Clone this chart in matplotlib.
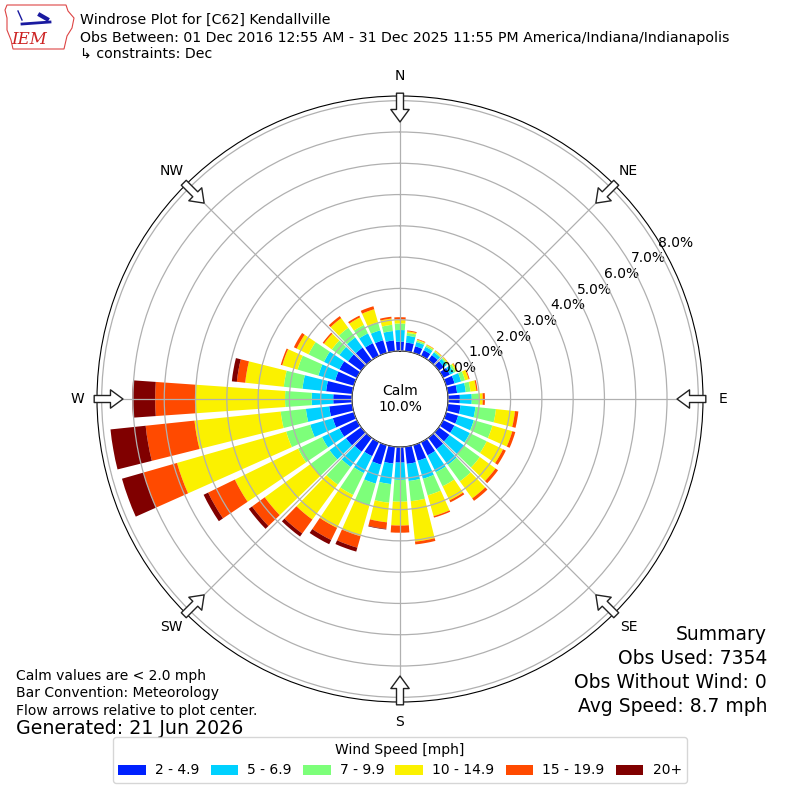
import numpy as np
import matplotlib
matplotlib.use("Agg")
import matplotlib.pyplot as plt
from matplotlib.patches import Patch, Polygon
from matplotlib.lines import Line2D

# wind direction bins (degrees, direction wind blows from)
directions = np.arange(0, 360, 10)

# frequency (%) per direction for each speed bin
spd_2_5 = [0.30, 0.28, 0.22, 0.20, 0.20, 0.20, 0.24, 0.28, 0.30, 0.38,
           0.41, 0.40, 0.40, 0.42, 0.45, 0.47, 0.52, 0.55, 0.50, 0.54,
           0.65, 0.50, 0.55, 0.60, 0.62, 0.70, 0.74, 0.60, 0.84, 0.62,
           0.62, 0.52, 0.50, 0.45, 0.42, 0.35]
spd_5_7 = [0.37, 0.22, 0.14, 0.12, 0.11, 0.11, 0.14, 0.22, 0.28, 0.38,
           0.48, 0.52, 0.55, 0.58, 0.62, 0.60, 0.60, 0.55, 0.55, 0.66,
           0.63, 0.60, 0.60, 0.65, 0.62, 0.75, 0.75, 0.69, 0.76, 0.56,
           0.55, 0.34, 0.40, 0.35, 0.33, 0.30]
spd_7_10 = [0.21, 0.09, 0.05, 0.05, 0.04, 0.05, 0.07, 0.13, 0.15, 0.23,
            0.66, 0.62, 0.60, 0.62, 0.65, 0.50, 0.55, 0.65, 0.70, 0.60,
            0.73, 0.78, 0.70, 0.75, 0.85, 0.80, 0.81, 0.85, 0.60, 0.69,
            0.55, 0.30, 0.38, 0.30, 0.27, 0.20]
spd_10_15 = [0.13, 0.05, 0.03, 0.03, 0.03, 0.03, 0.05, 0.12, 0.19, 0.12,
             0.61, 0.66, 0.58, 0.62, 0.67, 0.50, 0.69, 1.30, 0.76, 0.63,
             1.02, 1.17, 1.38, 1.81, 2.25, 3.63, 2.77, 2.88, 1.24, 0.51,
             0.42, 0.31, 0.38, 0.27, 0.43, 0.20]
spd_15_20 = [0.07, 0.03, 0.02, 0.01, 0.01, 0.01, 0.02, 0.03, 0.04, 0.07,
             0.11, 0.10, 0.10, 0.10, 0.10, 0.07, 0.05, 0.09, 0.23, 0.21,
             0.38, 0.43, 0.55, 0.50, 0.95, 1.12, 1.57, 1.27, 0.27, 0.05,
             0.10, 0.05, 0.08, 0.06, 0.10, 0.06]
spd_20 = [0.0, 0.0, 0.0, 0.0, 0.0, 0.0, 0.0, 0.0, 0.0, 0.0,
          0.0, 0.0, 0.0, 0.0, 0.0, 0.0, 0.0, 0.0, 0.0, 0.02,
          0.13, 0.15, 0.12, 0.13, 0.16, 0.71, 1.13, 0.73, 0.16, 0.0,
          0.0, 0.0, 0.0, 0.0, 0.0, 0.0]

speed_labels = ["2 - 4.9", "5 - 6.9", "7 - 9.9", "10 - 14.9", "15 - 19.9", "20+"]
speed_colors = plt.cm.jet([0.16, 0.33, 0.5, 0.655, 0.83, 1.0])

calm_pct = 10.0
compass = ["N", "NE", "E", "SE", "S", "SW", "W", "NW"]
rticks = np.arange(0, 9)

fig = plt.figure(figsize=(8, 8), dpi=100)
ax = fig.add_axes([0.12125, 0.1225, 0.7575, 0.7575], projection="polar")
ax.set_theta_zero_location("N")
ax.set_theta_direction(-1)
ax.set_rorigin(-1.534)
ax.set_ylim(0, 8.15)

theta = np.radians(directions)
bottom = np.zeros(len(directions))
series = [spd_2_5, spd_5_7, spd_7_10, spd_10_15, spd_15_20, spd_20]
for vals, col in zip(series, speed_colors):
    vals = np.array(vals)
    ax.bar(theta, vals, width=np.radians(8), bottom=bottom, color=col,
           linewidth=0, zorder=2)
    bottom += vals

ax.set_yticks(rticks)
ax.set_yticklabels(["%.1f%%" % v for v in rticks], fontsize=10)
ax.set_rlabel_position(60)
ax.set_xticks(np.radians(np.arange(0, 360, 45)))
ax.set_xticklabels([])
ax.grid(True, color="#b0b0b0", lw=0.9, zorder=3)
ax.set_axisbelow(False)

# hollow arrows and compass labels
for i, lab in enumerate(compass):
    th = np.radians(i * 45)
    ann = ax.annotate("", xy=(th, 7.32), xytext=(th, 8.24),
                      arrowprops=dict(arrowstyle="simple,head_length=0.75,head_width=1.1,tail_width=0.42",
                                      fc="white", ec="#222222", lw=1,
                                      shrinkA=0, shrinkB=0, mutation_scale=12),
                      annotation_clip=False, zorder=5)
    ann.arrow_patch.set_clip_on(False)
    ax.text(th, 8.79, lab, ha="center", va="center", fontsize=10, clip_on=False)

ax.text(0.5, 0.5, "Calm\n%.1f%%" % calm_pct, transform=ax.transAxes,
        ha="center", va="center", fontsize=10, zorder=6)

# rough IEM logo (state outline, station icon, letters)
def px(x, y):
    return (x / 800, 1 - y / 800)

outline = [px(7, 5), px(66, 5), px(68, 11), px(74, 18), px(72, 28), px(67, 36),
           px(64, 49), px(13, 49), px(11, 40), px(7, 30), px(7, 18), px(5, 10)]
fig.add_artist(Polygon(outline, closed=True, fill=False, ec="#dd4444", lw=0.8,
                       transform=fig.transFigure))
fig.add_artist(Line2D([22 / 800, 50 / 800], [1 - 24 / 800, 1 - 22 / 800],
                      color="#1a1aa0", lw=2, transform=fig.transFigure))
fig.add_artist(Line2D([40 / 800, 47 / 800], [1 - 15 / 800, 1 - 19 / 800],
                      color="#1a1aa0", lw=3, transform=fig.transFigure))
fig.add_artist(Line2D([18 / 800, 22 / 800], [1 - 11 / 800, 1 - 20 / 800],
                      color="#1a1aa0", lw=1, transform=fig.transFigure))
fig.text(0.036, 1 - 39 / 800, "IEM", color="#cc2222", fontsize=12,
         family="DejaVu Serif", style="italic", ha="center", va="center")

# header
fig.text(0.1, 1 - 20 / 800, "Windrose Plot for [C62] Kendallville", fontsize=10.2, va="center")
fig.text(0.1, 1 - 38 / 800,
         "Obs Between: 01 Dec 2016 12:55 AM - 31 Dec 2025 11:55 PM America/Indiana/Indianapolis",
         fontsize=10.2, va="center")
fig.text(0.1, 1 - 54 / 800, "\u21b3 constraints: Dec", fontsize=10.2, va="center")

# footer notes
fig.text(0.02, 1 - 676 / 800, "Calm values are < 2.0 mph", fontsize=10, va="center")
fig.text(0.02, 1 - 693 / 800, "Bar Convention: Meteorology", fontsize=10, va="center")
fig.text(0.02, 1 - 711 / 800, "Flow arrows relative to plot center.", fontsize=10, va="center")
fig.text(0.02, 1 - 729 / 800, "Generated: 21 Jun 2026", fontsize=13.7, va="center")

summary = ["Summary", "Obs Used: 7354", "Obs Without Wind: 0", "Avg Speed: 8.7 mph"]
for line, y in zip(summary, [635, 659, 682, 706]):
    fig.text(767 / 800, 1 - y / 800, line, fontsize=13.5, ha="right", va="center")

handles = [Patch(facecolor=c, label=l) for c, l in zip(speed_colors, speed_labels)]
fig.legend(handles=handles, loc="lower center", ncol=6, title="Wind Speed [mph]",
           bbox_to_anchor=(0.5, 0.0125), fontsize=10, title_fontsize=10,
           columnspacing=0.8, handletextpad=0.65)

fig.savefig("out.png", dpi=100)
